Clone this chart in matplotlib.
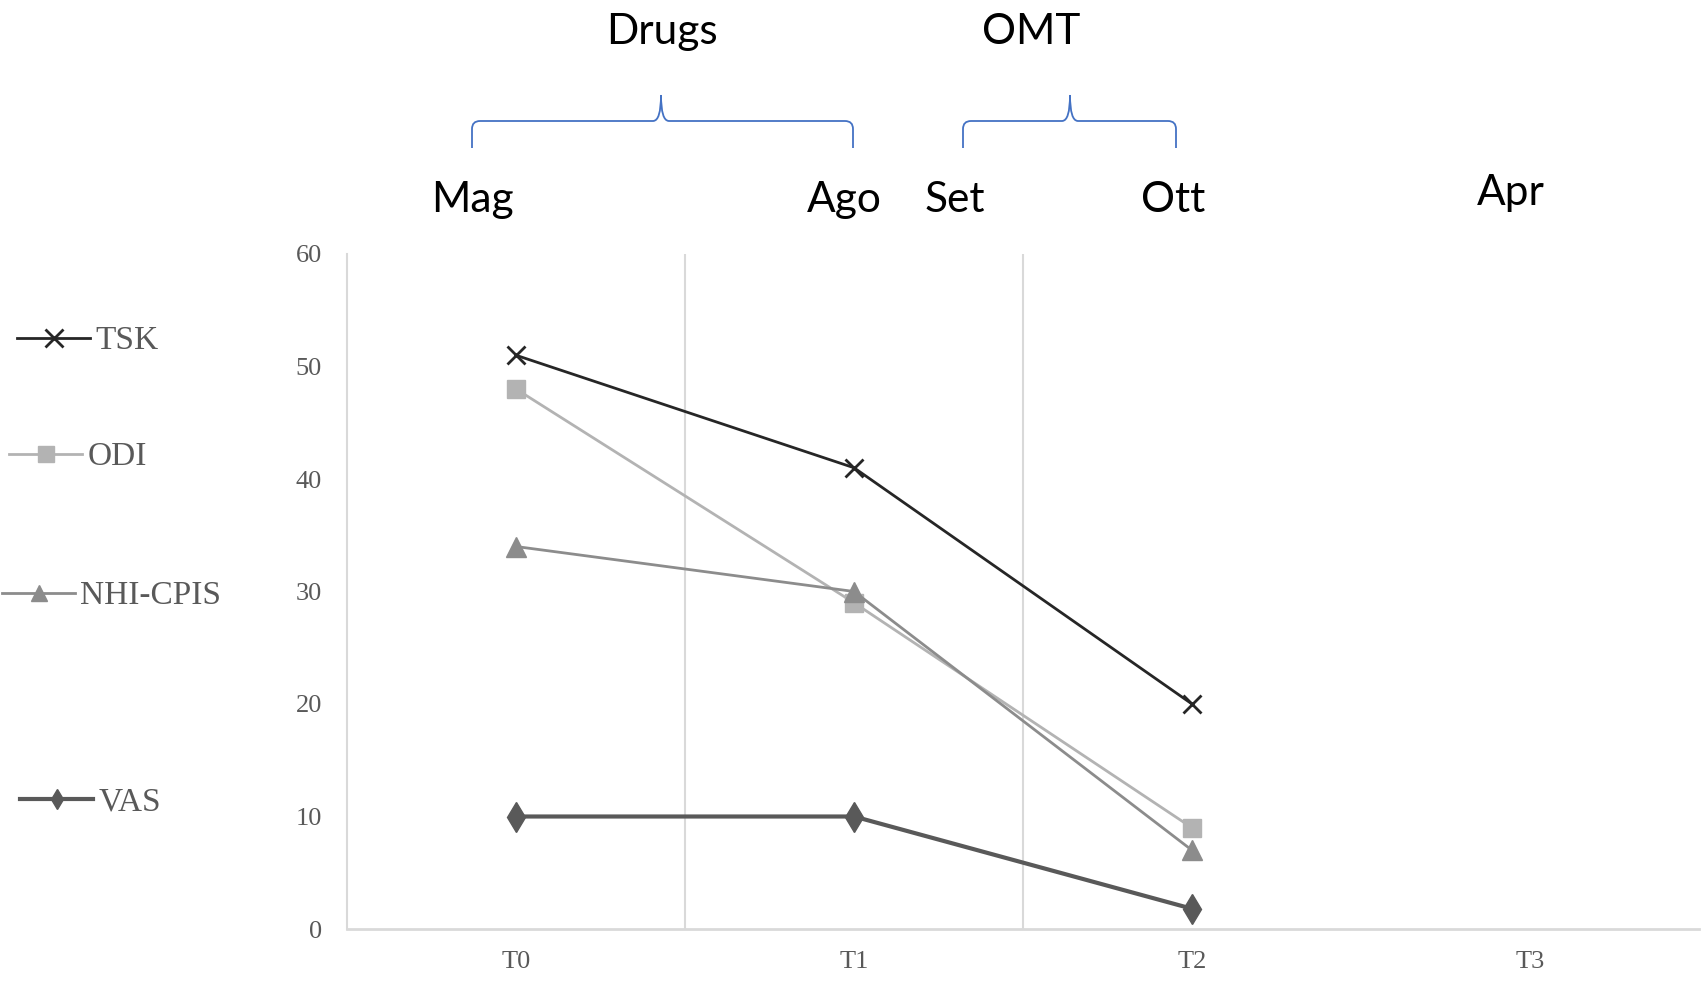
import matplotlib.pyplot as plt
from matplotlib.path import Path
from matplotlib.patches import PathPatch
from matplotlib.lines import Line2D

# dati
tempi = ['T0', 'T1', 'T2', 'T3']
tsk = [51, 41, 20]
odi = [48, 29, 9]
nhi_cpis = [34, 30, 7]
vas = [10, 10, 1.8]
y_ticks = [0, 10, 20, 30, 40, 50, 60]

mesi = ['Mag', 'Ago', 'Set', 'Ott', 'Apr']
periodi = ['Drugs', 'OMT']

W, H = 1701, 982
fig = plt.figure(figsize=(W / 100, H / 100), dpi=100)
ax = fig.add_axes([347 / W, 53 / H, 1352 / W, 675 / H])

serie = [
    ('TSK', tsk, '#262626', 'x', 13, 2.0),
    ('ODI', odi, '#b3b3b3', 's', 13, 2.0),
    ('NHI-CPIS', nhi_cpis, '#8c8c8c', '^', 14, 2.0),
    ('VAS', vas, '#595959', 'd', 15, 3.0),
]

x = range(len(tsk))
handles = []
for nome, val, col, mk, ms, lw in serie:
    h, = ax.plot(x, val, color=col, marker=mk, markersize=ms, lw=lw,
                 markeredgewidth=2 if mk == 'x' else 1, label=nome)
    handles.append(h)

# linee verticali tra le categorie
for xv in [0.5, 1.5]:
    ax.axvline(xv, color='#d9d9d9', lw=1.5, zorder=0)

ax.set_xlim(-0.5, 3.5)
ax.set_ylim(0, 60)
ax.set_xticks(range(len(tempi)))
ax.set_xticklabels(tempi)
ax.set_yticks(y_ticks)
ax.tick_params(length=0, labelsize=19, labelcolor='#595959')
ax.tick_params(axis='x', pad=16)
ax.tick_params(axis='y', pad=18)
for lab in ax.get_xticklabels() + ax.get_yticklabels():
    lab.set_family('Liberation Serif')
for s in ['top', 'right']:
    ax.spines[s].set_visible(False)
ax.spines['left'].set_color('#d9d9d9')
ax.spines['bottom'].set_color('#d9d9d9')
ax.spines['left'].set_linewidth(1.5)
ax.spines['bottom'].set_linewidth(2)

# legenda a sinistra, una voce per riga
leg_pos = [(17, 341), (9, 457), (2, 596), (20, 802)]
leg_ms = [1.0, 0.85, 0.85, 0.7]
for h, (lx, ly), k in zip(handles, leg_pos, leg_ms):
    hh = Line2D([], [], color=h.get_color(), marker=h.get_marker(),
                markersize=h.get_markersize() * k, lw=h.get_linewidth(),
                markeredgewidth=h.get_markeredgewidth())
    fig.legend([hh], [h.get_label()], loc='center left',
               bbox_to_anchor=(lx / W, 1 - ly / H), frameon=False,
               borderpad=0, borderaxespad=0, handlelength=2.2,
               handletextpad=0.15,
               prop={'family': 'Liberation Serif', 'size': 24},
               labelcolor='#595959')

# etichette in alto
top_font = {'family': 'Lato', 'size': 30.5, 'color': 'black'}
fig.text(662 / W, 1 - 32 / H, periodi[0], ha='center', va='center', **top_font)
fig.text(1031 / W, 1 - 32 / H, periodi[1], ha='center', va='center', **top_font)
mesi_pos = [(472, 200), (844, 200), (955, 200), (1173, 200), (1511, 193)]
for m, (mx, my) in zip(mesi, mesi_pos):
    fig.text(mx / W, 1 - my / H, m, ha='center', va='center', **top_font)


def parentesi(x0, x1, xm, yb=148, yh=121, yt=95, r=8):
    pts = [(x0, yb), (x0, yh + r), (x0, yh), (x0 + r, yh),
           (xm - r, yh), (xm, yh), (xm, yt),
           (xm, yh), (xm + r, yh),
           (x1 - r, yh), (x1, yh), (x1, yh + r), (x1, yb)]
    codes = [Path.MOVETO, Path.LINETO, Path.CURVE3, Path.CURVE3,
             Path.LINETO, Path.CURVE3, Path.CURVE3,
             Path.CURVE3, Path.CURVE3,
             Path.LINETO, Path.CURVE3, Path.CURVE3, Path.LINETO]
    verts = [(px / W, 1 - py / H) for px, py in pts]
    fig.add_artist(PathPatch(Path(verts, codes), fill=False,
                             edgecolor='#4472c4', lw=1.3,
                             transform=fig.transFigure))


parentesi(472, 853, 661)
parentesi(963, 1176, 1070)

plt.savefig('out.png', dpi=100)
